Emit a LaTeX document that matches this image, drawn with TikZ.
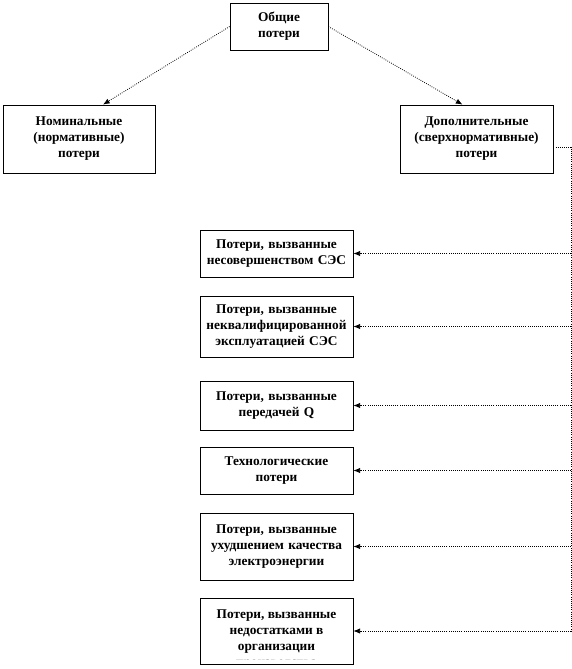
\documentclass[tikz,border=0pt]{standalone}
\usepackage{fontspec}
\setmainfont{Liberation Serif}
\usetikzlibrary{positioning,arrows.meta,calc}

\begin{document}
\begin{tikzpicture}[
  x=0.75pt, y=-0.75pt,
  font=\fontsize{10}{12}\selectfont\bfseries,
  >={Latex[length=5pt,width=4pt]},
  lossbox/.style={
    draw=black, line width=0.6pt, align=center,
    inner sep=2pt, fill=white
  },
  topbox/.style={lossbox, minimum width=73.5pt, minimum height=35.25pt},
  groupbox/.style={lossbox, minimum width=114pt, minimum height=51pt},
  causebox/.style={lossbox, minimum width=114.75pt, text width=110pt},
  link/.style={->, densely dotted, line width=0.6pt, black}
]
\useasboundingbox (0,0) rectangle (572,669);

% ---------- top level ----------
\node[topbox] (total) at (279,26.5) {Общие\\потери};

% ---------- two groups ----------
\node[groupbox] (nominal) at (79,139)
  {Номинальные\\(нормативные)\\потери};
\node[groupbox, minimum width=114.75pt] (extra) at (476.5,139)
  {Дополнительные\\(сверхнормативные)\\потери};

\draw[link] (total.west) -- ($(nominal.north)+(24,0)$);
\draw[link] (total.east) -- ($(extra.north)-(14,0)$);

% ---------- causes of the extra losses ----------
\node[causebox, minimum height=35.25pt] (imperfect) at (276.5,253.5)
  {Потери, вызванные\\несовершенством СЭС};
\node[causebox, minimum height=45.75pt] (unskilled) at (276.5,326.5)
  {Потери, вызванные\\неквалифицированной\\эксплуатацией СЭС};
\node[causebox, minimum height=36.75pt] (reactive) at (276.5,405.5)
  {Потери, вызванные\\передачей Q};
\node[causebox, minimum height=35.25pt] (technol) at (276.5,470.5)
  {Технологические\\потери};
\node[causebox, minimum height=50.25pt] (quality) at (276.5,546.5)
  {Потери, вызванные\\ухудшением качества\\электроэнергии};
\node[causebox, minimum height=49.5pt] (organis) at (276.5,631) {};

% text of the last box runs past its lower edge and is cut off
\begin{scope}
  \clip (organis.north west) rectangle ($(organis.south east)+(0,-4.5)$);
  \node[align=center, anchor=north, inner sep=0pt] (organistext)
    at ($(organis.north)+(0,12)$)
    {Потери, вызванные\\недостатками в\\организации\\производства};
\end{scope}

% trunk from the extra-losses box down the right side
\coordinate (bend) at (571,147);
\draw[densely dotted, line width=0.6pt] (extra.east |- bend) -- (bend) -- (bend |- organis.east);

\draw[link] (bend |- imperfect.east) -- (imperfect.east);
\draw[link] (bend |- unskilled.east) -- (unskilled.east);
\draw[link] (bend |- reactive.east) -- (reactive.east);
\draw[link] (bend |- technol.east) -- (technol.east);
\draw[link] (bend |- quality.east) -- (quality.east);
\draw[link] (bend |- organis.east) -- (organis.east);

\end{tikzpicture}
\end{document}
